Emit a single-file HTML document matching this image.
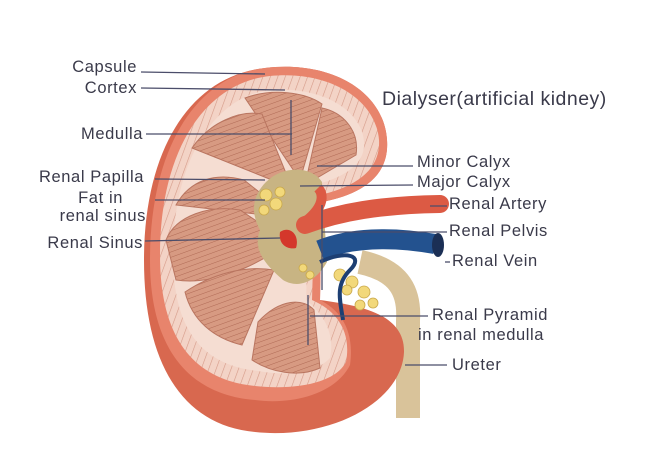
<!DOCTYPE html>
<html><head><meta charset="utf-8"><style>
body{margin:0;background:#fff;width:671px;height:453px;overflow:hidden}
svg{display:block}
text{font-family:"Liberation Sans",sans-serif;font-size:16.5px;letter-spacing:0.6px;fill:#3a3a4a}
</style></head><body>
<svg width="671" height="453" viewBox="0 0 671 453">
<defs>
<pattern id="st" width="5" height="5" patternUnits="userSpaceOnUse" patternTransform="rotate(70)">
<rect width="5" height="5" fill="#d79a82"/><line x1="0" y1="0" x2="0" y2="5" stroke="#b06a55" stroke-width="1"/></pattern>
<pattern id="cx" width="7" height="7" patternUnits="userSpaceOnUse" patternTransform="rotate(20)">
<rect width="7" height="7" fill="#f3d3c6"/><line x1="0" y1="0" x2="0" y2="7" stroke="#d59a88" stroke-width="1.2"/></pattern>
</defs>
<path d="M360,262 C398,270 410,290 408,320 L408,418" stroke="#d9c39a" stroke-width="24" fill="none"/>
<path d="M265,68 C332,60 384,92 387,140 C390,182 352,196 322,202 L320,300 C355,305 405,312 404,352 C402,402 330,440 255,432 C180,425 144,360 144,260 C144,150 190,76 265,68 Z" fill="#d8684f"/>
<path d="M265,68 C332,60 384,92 387,140 C390,182 352,196 322,202 L320,300 C340,310 355,330 350,365 C335,395 290,405 255,400 C190,395 150,350 150,260 C150,150 195,76 265,68 Z" fill="#e8846c"/>
<path d="M270,76 C330,70 376,100 379,140 C381,175 346,190 315,196 L312,300 C335,310 352,330 346,362 C334,385 290,390 255,386 C195,380 160,340 160,255 C160,150 205,83 270,76 Z" fill="url(#cx)"/>
<path d="M270,90 C322,86 362,110 364,142 C366,168 336,180 310,186 L306,300 C325,315 335,335 330,358 C315,374 285,376 258,371 C202,365 173,330 173,255 C173,160 215,96 270,90 Z" fill="#f5ddd2"/>
<g fill="url(#st)" stroke="#b97560" stroke-width="1">
<path d="M245,98 C272,88 305,92 322,104 L300,180 Z"/>
<path d="M322,108 C342,112 360,130 356,155 L305,185 Z"/>
<path d="M192,148 C210,122 240,110 262,114 L292,188 Z"/>
<path d="M176,205 C190,180 215,172 244,180 L292,218 Z"/>
<path d="M166,240 C176,215 210,205 240,210 L288,242 C252,270 210,285 176,280 Z"/>
<path d="M185,292 C212,274 245,265 274,270 L242,345 C213,338 192,320 185,292 Z"/>
<path d="M258,322 C280,298 304,298 314,310 L320,368 C298,378 270,372 252,360 Z"/>
</g>
<path d="M266,182 C283,165 312,166 322,182 L327,262 C317,280 300,290 283,280 C266,265 252,250 260,230 C248,208 256,192 266,182 Z" fill="#c8b483"/>
<g fill="#f2d87a" stroke="#c9a84a" stroke-width="0.8">
<circle cx="266" cy="195" r="6"/><circle cx="276" cy="204" r="6"/><circle cx="264" cy="210" r="5"/><circle cx="280" cy="192" r="5"/>
<circle cx="303" cy="268" r="4"/><circle cx="310" cy="275" r="4"/>
<circle cx="340" cy="275" r="6"/><circle cx="352" cy="282" r="6"/><circle cx="364" cy="292" r="6"/><circle cx="373" cy="303" r="5"/><circle cx="347" cy="290" r="5"/><circle cx="360" cy="305" r="5"/>
</g>
<path d="M280,232 C290,225 300,235 296,248 C288,250 278,245 280,232 Z" fill="#d4372b"/>
<path d="M305,225 C340,212 380,205 440,204" stroke="#dc5a44" stroke-width="18" fill="none" stroke-linecap="round"/>
<path d="M305,222 C330,202 320,190 318,188" stroke="#dc5a44" stroke-width="10" fill="none"/>
<path d="M320,250 C350,238 390,236 435,244" stroke="#23528f" stroke-width="20" fill="none"/>
<ellipse cx="438" cy="245" rx="6" ry="12" fill="#1b2f55"/>
<path d="M320,262 C345,250 365,255 350,270 C335,285 340,300 343,320" stroke="#1d3f73" stroke-width="4" fill="none"/>
<g stroke="#4b4d6a" stroke-width="1.3">
<line x1="141" y1="72" x2="265" y2="74"/>
<line x1="141" y1="88" x2="285" y2="90"/>
<line x1="146" y1="134" x2="292" y2="134"/>
<line x1="291" y1="100" x2="291" y2="155"/>
<line x1="155" y1="179" x2="265" y2="180"/>
<line x1="155" y1="200" x2="265" y2="200"/>
<line x1="145" y1="241" x2="280" y2="238"/>
<line x1="317" y1="166" x2="413" y2="166"/>
<line x1="300" y1="186" x2="413" y2="185"/>
<line x1="430" y1="206" x2="447" y2="206"/>
<line x1="322" y1="232" x2="447" y2="232"/>
<line x1="322" y1="205" x2="322" y2="290"/>
<line x1="445" y1="262" x2="450" y2="262"/>
<line x1="310" y1="316" x2="428" y2="316"/>
<line x1="308" y1="295" x2="308" y2="345"/>
<line x1="405" y1="365" x2="447" y2="365"/>
</g>
<g text-anchor="end">
<text x="137" y="72">Capsule</text>
<text x="137" y="93">Cortex</text>
<text x="143" y="139">Medulla</text>
<text x="144" y="182">Renal Papilla</text>
<text x="123" y="203">Fat in</text>
<text x="146" y="221">renal sinus</text>
<text x="143" y="248">Renal Sinus</text>
</g>
<text x="382" y="105" style="font-size:19.5px;letter-spacing:0.5px">Dialyser(artificial kidney)</text>
<text x="417" y="167">Minor Calyx</text>
<text x="417" y="187">Major Calyx</text>
<text x="449" y="209">Renal Artery</text>
<text x="449" y="236">Renal Pelvis</text>
<text x="452" y="266">Renal Vein</text>
<text x="432" y="320">Renal Pyramid</text>
<text x="418" y="340">in renal medulla</text>
<text x="452" y="370">Ureter</text>
</svg>
</body></html>
